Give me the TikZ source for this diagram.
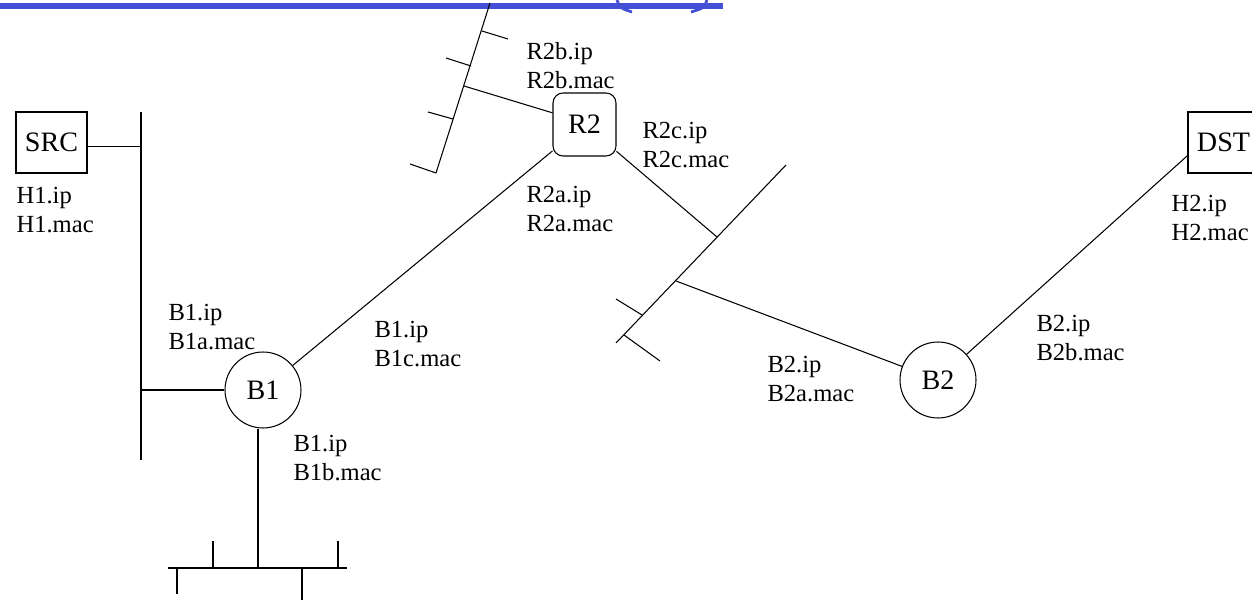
\documentclass[tikz,border=0pt]{standalone}
\usepackage{fontspec}
\setmainfont{Liberation Serif}
\usepackage{tikz}
\usetikzlibrary{positioning}
\definecolor{slideblue}{RGB}{68,80,214}

\tikzset{
  host/.style={draw,rectangle,minimum width=1.42cm,minimum height=1.22cm,inner sep=0pt,font=\fontsize{16}{19}\selectfont},
  router/.style={draw,rectangle,rounded corners=0.2cm,minimum size=1.26cm,inner sep=0pt,font=\fontsize{16}{19}\selectfont},
  bridge/.style={draw,circle,minimum size=1.52cm,inner sep=0pt,font=\fontsize{16}{19}\selectfont},
  addr/.style={anchor=north west,align=left,inner sep=0pt,font=\fontsize{14}{16.5}\selectfont}
}

\begin{document}
\begin{tikzpicture}[x=0.02cm,y=-0.02cm,line width=0.6pt]
  \useasboundingbox (0,0) rectangle (1252,601);
  \clip (0,0) rectangle (1252,601);
  \fill[slideblue] (0,3) rectangle (723,9);
  \draw[slideblue,line width=1.6pt] (617,0) .. controls (620,8) .. (632,12);
  \draw[slideblue,line width=1.6pt] (707,0) .. controls (704,8) .. (691,12);

  \node (SRC) [host] at (51.5,142.5) {SRC};
  \node (DST) [host] at (1223.5,142.5) {DST};
  \node (R2) [router] at (584.5,124.5) {R2};
  \node (B1) [bridge] at (263,390) {B1};
  \node (B2) [bridge] at (938,380) {B2};

  \coordinate (lanA top) at (141,112);
  \coordinate (lanA bot) at (141,460);
  \draw (lanA top) -- (lanA bot);
  \draw (SRC.-7) -- (SRC.-7 -| lanA top);
  \draw (B1) -- (B1 -| lanA top);

  \coordinate (lanB left) at (168,568);
  \coordinate (lanB right) at (347,568);
  \coordinate (lanB tap) at (258,568);
  \draw (lanB left) -- (lanB right);
  \draw (lanB tap) -- (lanB tap |- B1.south);
  \foreach \x in {213,338} \draw (\x,568) -- (\x,541);
  \foreach \x/\y in {177/594,302/600} \draw (\x,568) -- (\x,\y);

  \coordinate (lanC top) at (490,3);
  \coordinate (lanC bot) at (436,173);
  \coordinate (lanC tap) at (464,86);
  \draw (lanC top) -- (lanC bot);
  \draw (R2.160) -- (lanC tap);
  \foreach \a/\b/\c/\d in {482/31/508/39,471/66/446/58,453/119/428/112,436/173/410/164}
    \draw (\a,\b) -- (\c,\d);

  \coordinate (lanD top) at (786,165);
  \coordinate (lanD bot) at (616,343);
  \coordinate (lanD tapR) at (717,237);
  \coordinate (lanD tapB) at (676,281);
  \draw (lanD top) -- (lanD bot);
  \draw (R2.-40) -- (lanD tapR);
  \draw (B2) -- (lanD tapB);
  \foreach \a/\b/\c/\d in {642/315/616/299,624/335/660/361}
    \draw (\a,\b) -- (\c,\d);

  \draw (B1) -- (R2);
  \draw (B2) -- (DST.200);

  \node (H1 addr) [addr] at (16,187) {H1.ip\\H1.mac};
  \node (H2 addr) [addr] at (1171,195) {H2.ip\\H2.mac};
  \node (R2a addr) [addr] at (526,186) {R2a.ip\\R2a.mac};
  \node (R2b addr) [addr] at (526,42) {R2b.ip\\R2b.mac};
  \node (R2c addr) [addr] at (642,122) {R2c.ip\\R2c.mac};
  \node (B1a addr) [addr] at (168,304) {B1.ip\\B1a.mac};
  \node (B1b addr) [addr] at (293,435) {B1.ip\\B1b.mac};
  \node (B1c addr) [addr] at (374,321) {B1.ip\\B1c.mac};
  \node (B2a addr) [addr] at (767,356) {B2.ip\\B2a.mac};
  \node (B2b addr) [addr] at (1036,315) {B2.ip\\B2b.mac};
\end{tikzpicture}
\end{document}
